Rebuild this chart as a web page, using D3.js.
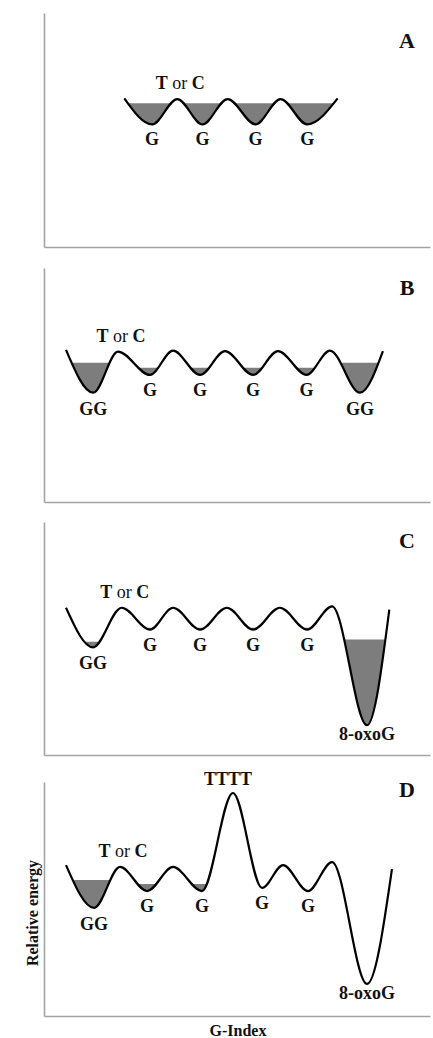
<!DOCTYPE html>
<html>
<head>
<meta charset="utf-8">
<script src="https://cdn.jsdelivr.net/npm/d3@7"></script>
<style>
    html, body { margin: 0; padding: 0; background: #fff; }
    svg text { font-family: "Liberation Serif", "Times New Roman", serif; font-weight: bold; fill: #111; }
</style>
</head>
<body>
<svg id="chart" width="433" height="1038"></svg>
<script>
// ===================================================================
// DATA  (x = position along the sequence, energy = relative energy 0..10)
// ===================================================================

// Panel A
const posA = [2.2, 3.25, 4.2, 5.15, 6.1, 7.15, 8.1, 9.1, 10.25];
const energyA = [6.35, 5.24, 6.32, 5.24, 6.32, 5.24, 6.32, 5.24, 6.35];
const wellsA = [1, 3, 5, 7];
const levelsA = [6.14, 6.14, 6.14, 6.14];
const labelsA = [["G", 1], ["G", 3], ["G", 5], ["G", 7]];

// Panel B
const posB = [0, 1.03, 1.96, 3.17, 4.04, 5.06, 6.0, 7.06, 8.0, 9.08, 9.96, 11.09, 11.96];
const energyB = [6.5, 4.67, 6.43, 5.43, 6.47, 5.43, 6.45, 5.43, 6.45, 5.43, 6.47, 4.67, 6.45];
const wellsB = [1, 3, 5, 7, 9, 11];
const levelsB = [5.95, 5.74, 5.74, 5.74, 5.74, 5.95];
const labelsB = [["GG", 1], ["G", 3], ["G", 5], ["G", 7], ["G", 9], ["GG", 11]];

// Panel C
const posC = [0, 1.02, 2.1, 3.17, 4.04, 5.06, 6.07, 7.06, 8.07, 9.1, 10.04, 11.36, 12.2];
const energyC = [6.32, 4.62, 6.32, 5.38, 6.32, 5.38, 6.32, 5.38, 6.32, 5.38, 6.38, 1.28, 6.24];
const wellsC = [1, 3, 5, 7, 9, 11];
const levelsC = [4.86, 5.46, 5.46, 5.46, 5.46, 4.96];
const labelsC = [["GG", 1], ["G", 3], ["G", 5], ["G", 7], ["G", 9], ["8-oxoG", 11]];

// Panel D
const posD = [0, 1.06, 2.04, 3.06, 4.04, 5.13, 6.3, 7.4, 8.19, 9.13, 10.04, 11.36, 12.3];
const energyD = [6.45, 4.62, 6.37, 5.34, 6.37, 5.34, 9.53, 5.47, 6.45, 5.34, 6.58, 1.37, 6.28];
const wellsD = [1, 3, 5, 7];
const levelsD = [5.81, 5.64, 5.64, 5.52];
const labelsD = [["GG", 1], ["G", 3], ["G", 5], ["G", 7], ["G", 9], ["8-oxoG", 11], ["TTTT", 6]];

const panelNames = ["A", "B", "C", "D"];
const yLabel = "Relative energy";
const xLabel = "G-Index";

// ===================================================================
// LAYOUT
// ===================================================================
const svg = d3.select('#chart');
const axisLeftX = 44;
const axisRightX = 430;

const x = d3.scaleLinear().domain([0, 12]).range([66, 384]);

const panels = [
    { pos: posA, energy: energyA, wells: wellsA, levels: levelsA, labels: labelsA, top: 13, bottom: 247, letterY: 48, torc: 2 },
    { pos: posB, energy: energyB, wells: wellsB, levels: levelsB, labels: labelsB, top: 268, bottom: 502, letterY: 295, torc: 2 },
    { pos: posC, energy: energyC, wells: wellsC, levels: levelsC, labels: labelsC, top: 522, bottom: 755, letterY: 548, torc: 2 },
    { pos: posD, energy: energyD, wells: wellsD, levels: levelsD, labels: labelsD, top: 782, bottom: 1016, letterY: 797, torc: 2 }
];

// label offsets below a well / above a peak
const labelDy = { "G": 21, "GG": 22, "8-oxoG": 15, "TTTT": -8 };
const labelDx = { "TTTT": -5 };

panels.forEach((p, k) => {
    const y = d3.scaleLinear().domain([0, 10]).range([p.bottom, p.top]);
    const pts = p.pos.map((v, i) => [v, p.energy[i]]);
    const g = svg.append('g').attr('class', `panel panel-${panelNames[k]}`);

    // Axes (bare frame lines)
    const xFrame = x.copy().domain([x.invert(axisLeftX), x.invert(axisRightX)]).range([axisLeftX, axisRightX]);
    g.append('g')
        .attr('transform', `translate(0,${p.bottom})`)
        .call(d3.axisBottom(xFrame).tickValues([]).tickSizeOuter(0));
    g.append('g')
        .attr('transform', `translate(${axisLeftX},0)`)
        .call(d3.axisLeft(y).tickValues([]).tickSizeOuter(0));
    g.selectAll('.domain')
        .attr('stroke', '#a3a3a3')
        .attr('stroke-width', 1.6);

    // Filled wells: area above the curve, clipped below the fill level
    const clipId = `clip-${k}`;
    const clip = g.append('clipPath').attr('id', clipId);
    p.wells.forEach((w, j) => {
        const x0 = x(p.pos[w - 1]);
        const x1 = x(p.pos[w + 1]);
        clip.append('rect')
            .attr('x', x0)
            .attr('y', y(p.levels[j]))
            .attr('width', x1 - x0)
            .attr('height', p.bottom - y(p.levels[j]));
    });

    const area = d3.area()
        .x(d => x(d[0]))
        .y0(p.top)
        .y1(d => y(d[1]))
        .curve(d3.curveMonotoneX);

    g.append('path')
        .datum(pts)
        .attr('d', area)
        .attr('fill', '#7d7d7d')
        .attr('clip-path', `url(#${clipId})`);

    // Energy curve
    const line = d3.line()
        .x(d => x(d[0]))
        .y(d => y(d[1]))
        .curve(d3.curveMonotoneX);

    g.append('path')
        .datum(pts)
        .attr('d', line)
        .attr('fill', 'none')
        .attr('stroke', '#000')
        .attr('stroke-width', 2.2);

    // Site labels
    g.selectAll('.site-label')
        .data(p.labels)
        .join('text')
        .attr('class', 'site-label')
        .attr('x', d => x(p.pos[d[1]]) + (labelDx[d[0]] || 0))
        .attr('y', d => y(p.energy[d[1]]) + labelDy[d[0]])
        .attr('text-anchor', 'middle')
        .style('font-size', '18px')
        .text(d => d[0]);

    // "T or C" above the first barrier
    const torc = g.append('text')
        .attr('x', x(p.pos[p.torc]) + 3)
        .attr('y', y(p.energy[p.torc]) - 10)
        .attr('text-anchor', 'middle')
        .style('font-size', '18px');
    torc.append('tspan').text('T');
    torc.append('tspan').style('font-weight', 'normal').text(' or ');
    torc.append('tspan').text('C');

    // Panel letter
    g.append('text')
        .attr('x', 407)
        .attr('y', p.letterY)
        .attr('text-anchor', 'middle')
        .style('font-size', '22px')
        .text(panelNames[k]);

    if (k === panels.length - 1) {
        g.append('text')
            .attr('transform', `translate(38,${(p.top + p.bottom) / 2 + 14}) rotate(-90)`)
            .attr('text-anchor', 'middle')
            .style('font-size', '16px')
            .text(yLabel);
        g.append('text')
            .attr('x', 238)
            .attr('y', 1036)
            .attr('text-anchor', 'middle')
            .style('font-size', '16px')
            .text(xLabel);
    }
});
</script>
</body>
</html>
